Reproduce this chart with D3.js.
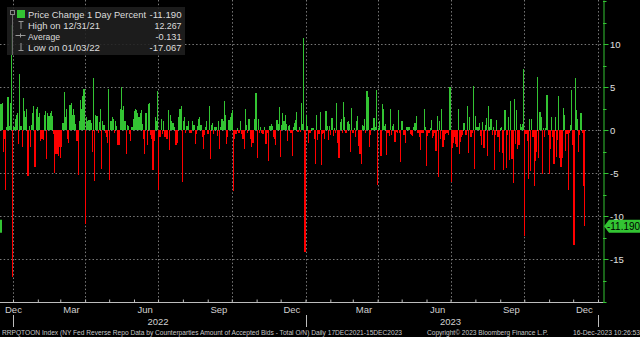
<!DOCTYPE html>
<html><head><meta charset="utf-8">
<script src="https://cdn.jsdelivr.net/npm/d3@7"></script>
<style>html,body{margin:0;padding:0;background:#000;overflow:hidden}svg{display:block}</style>
</head><body><svg id="c" width="640" height="337"></svg>
<script>
// ---------- DATA ----------
const seriesName = "Price Change 1 Day Percent";
const startDate = "2021-12-17", endDate = "2023-12-15";
const holidays = ["2021-12-24","2022-01-17","2022-02-21","2022-05-30","2022-06-20","2022-07-04","2022-09-05",
  "2022-10-10","2022-11-11","2022-11-24","2022-12-26","2023-01-02","2023-01-16","2023-02-20","2023-05-29",
  "2023-06-19","2023-07-04","2023-09-04","2023-10-09","2023-11-10","2023-11-23"];
// daily % changes, Dec 17 2021 - Apr 19 2022
const valsA = [3.0,3.2,-2.5,-1.0,-7.0,0.3,3.8,0.5,3.2,12.267,
 -17.067,0.3,1.3,1.8,2.0,-1.6,6.5,0.5,-2.0,3.7,
 2.2,1.5,2.4,-5.4,0.5,-2.0,0.6,2.0,2.8,-4.3,
 2.4,2.7,1.5,2.0,-1.3,-1.0,-1.2,1.8,2.2,-3.4,
 2.0,1.6,2.0,2.2,1.6,-0.5,-5.0,-2.8,-2.8,-3.0,
 -2.0,-3.2,-2.0,0.8,4.4,1.5,2.5,-1.0,-1.5,2.9,
 3.2,1.8,2.4,1.8,0.7,-1.3,-5.2,1.0,3.5,2.5,
 3.9,4.8,-10.9,1.5,1.0,1.2,1.2,0.8,-2.6,6.1,
 -5.9,1.8,1.6,-0.4,0.9];
// Apr 20 2022 - Aug 22 2022
const valsB = [2.5,-4.5,1.0,0.6,-0.4,-0.8,-1.5,4.8,-5.8,1.0,
 1.5,1.3,-0.3,1.0,0.5,-1.8,-1.7,2.5,5.0,2.3,
 2.8,1.0,-2.8,0.6,0.5,-0.5,-1.3,0.3,1.3,2.2,
 2.5,2.3,2.0,1.5,2.0,2.3,0.7,-1.0,-2.8,2.0,
 -1.8,3.0,3.2,-0.6,-1.0,-4.6,-1.3,1.5,1.0,4.5,
 -7.0,-0.8,1.3,-0.5,1.0,-0.8,-0.8,-1.0,2.3,-2.3,
 1.7,1.0,0.8,0.3,-1.8,-1.8,-1.5,1.5,2.5,2.8,
 -6.0,1.0,1.5,-0.4,0.5,1.0,-0.3,-0.4,-0.3,1.0,
 0.6,-1.6,-0.5,0.5,1.3,1.5];
// Aug 23 2022 - Dec 23 2022
const valsC = [0.6,-0.8,-2.2,-0.6,0.3,1.0,-0.5,2.8,-3.4,0.6,
 0.8,-0.5,0.4,0.4,-0.7,1.0,-2.2,0.4,1.3,1.0,
 3.4,1.8,-1.6,-0.8,1.2,1.5,2.0,2.3,-7.1,-1.0,
 -0.5,0.2,-0.4,-0.3,1.0,-0.5,-1.0,-2.2,2.5,0.6,
 -0.3,1.3,-1.0,-2.0,-1.5,-1.5,1.3,4.3,-3.2,1.3,
 -0.3,0.4,-0.3,-0.5,0.3,-1.6,-1.6,-0.4,-3.6,0.5,
 0.7,0.5,-0.8,-1.0,-1.8,1.2,0.7,2.7,-3.1,0.6,
 2.0,1.0,1.8,0.7,-1.3,0.5,0.6,-0.3,-3.0,0.3,
 0.8,1.2,2.1,-0.2,0.4];
// Dec 27 2022 - Apr 28 2023
const valsD = [-0.2,3.2,0.7,10.7,-14.2,1.8,0.5,-1.5,-0.4,-0.3,
 0.2,0.2,-1.0,-3.9,1.8,-1.2,-0.5,2.1,-4.1,-0.5,
 -0.3,-1.0,2.2,0.5,-1.2,0.5,-0.6,1.4,-0.7,0.2,
 -0.3,3.1,-1.5,-3.2,0.9,1.3,-0.4,3.3,1.5,-0.3,
 0.9,1.1,0.7,-2.5,2.6,-0.3,0.2,-0.8,1.0,1.6,
 -1.9,-2.8,-3.9,0.6,0.5,1.3,-0.3,4.5,3.8,-2.0,
 -0.6,0.2,0.2,1.4,0.4,4.6,-6.4,0.2,1.0,-3.0,
 3.0,2.5,0.5,0.7,-2.9,-0.3,-0.7,2.4,-0.6,0.5,
 0.7,-1.4,-0.2,-0.3,2.3,-0.4];
// May 1 2023 - Sep 1 2023
const valsE = [-3.7,1.1,-0.6,-0.6,-1.5,0.4,0.3,0.4,-0.5,-0.6,
 -0.7,0.3,0.8,1.6,-0.3,-0.4,-0.8,-2.3,-0.3,-0.3,
 2.4,0.3,-4.2,-0.7,-0.3,0.2,1.2,-0.9,-0.7,-0.3,
 -2.4,1.6,-5.5,1.0,-1.1,2.4,-2.0,-1.2,-0.5,-0.4,
 -0.3,-0.6,5.0,-6.1,-2.1,-1.5,-0.8,-1.6,-2.0,2.4,
 -2.8,-1.4,-0.8,-0.6,0.8,-0.6,-0.6,2.8,-2.7,1.5,
 -0.8,-0.4,5.1,-4.5,1.6,0.3,0.3,0.8,-0.7,-1.7,
 0.9,-2.1,0.6,1.4,-3.0,2.8,0.3,1.3,-0.6,0.3,
 -4.6,-0.6,1.2,-0.8,-2.6,0.2,0.3];
// Sep 5 2023 - Dec 15 2023
const valsF = [-2.7,-4.7,2.3,-4.4,-0.6,1.5,-3.5,3.4,-3.4,-6.2,
 3.6,-1.6,2.3,-2.2,-1.7,0.7,0.3,0.7,7.1,-12.3,
 -0.5,-1.3,-5.7,1.3,-4.8,1.3,-0.8,-6.5,-3.6,-2.5,
 6.2,-3.2,2.1,1.5,-5.1,0.2,-0.8,0.2,4.1,-0.6,
 -5.1,-2.2,1.5,-0.8,-4.0,1.5,-3.1,-1.2,4.0,-3.2,
 -4.3,-3.2,2.6,1.8,-2.4,-0.5,-7.0,-0.3,0.6,4.6,
 -1.8,-13.4,6.1,2.3,1.3,-2.5,-0.6,2.0,-0.3,-6.5,
 -11.19];
const legendLabels = ["Price Change 1 Day Percent","High on 12/31/21","Average","Low on 01/03/22"];
const legendValues = ["-11.190","12.267","-0.131","-17.067"];
const lastValueText = "-11.190";
const yTicks = [-15,-10,-5,0,5,10];
const monthLabels = [["2021-12","Dec"],["2022-03","Mar"],["2022-06","Jun"],["2022-09","Sep"],["2022-12","Dec"],
  ["2023-03","Mar"],["2023-06","Jun"],["2023-09","Sep"],["2023-12","Dec"]];
const yearLabels = ["2022","2023"];
const footerLeft = "RRPQTOON Index (NY Fed Reverse Repo Data by Counterparties Amount of Accepted Bids - Total O/N)  Daily 17DEC2021-15DEC2023";
const footerMid = "Copyright\u00A9 2023 Bloomberg Finance L.P.";
const footerRight = "16-Dec-2023 10:26:53";

// ---------- BUILD ----------
const values = [].concat(valsA, valsB, valsC, valsD, valsE, valsF);
const hol = new Set(holidays);
const days = d3.utcDay.range(new Date(startDate+"T00:00:00Z"), d3.utcDay.offset(new Date(endDate+"T00:00:00Z"),1))
  .filter(d => d.getUTCDay()!==0 && d.getUTCDay()!==6 && !hol.has(d.toISOString().slice(0,10)));
const n = Math.min(days.length, values.length);
const data = d3.range(n).map(i => ({i, date: days[i], v: values[i]}));

const FONT = "'Liberation Sans', Arial, sans-serif";
const GREEN = "#33c433", RED = "#ff0000";
const svg = d3.select("#c");
svg.append("rect").attr("width",640).attr("height",337).attr("fill","#000");

const plotL = 0, plotR = 603, plotT = 0, plotB = 302;
// calendar scale for the axis
const x = d3.scaleUtc().domain([new Date(Date.UTC(2022,0,1)), new Date(Date.UTC(2024,0,1))]).range([13, 598]);
// trading-day scale for the bars (evenly spaced sessions)
const xi = d3.scaleLinear().domain([0, n-1]).range([x(days[0]), x(days[n-1])]);
const y = d3.scaleLinear().domain([-20, 15.12]).range([plotB, plotT]);

// grid
const grid = svg.append("g").attr("stroke","#7a7a7a").attr("stroke-width",1).attr("stroke-dasharray","1.5,2.2");
grid.selectAll("line.h").data(yTicks).join("line")
  .attr("x1",plotL).attr("x2",plotR).attr("y1",d=>Math.round(y(d))+0.5).attr("y2",d=>Math.round(y(d))+0.5);
const qDates = d3.utcMonth.every(3).range(new Date(Date.UTC(2022,0,1)), new Date(Date.UTC(2024,0,2)));
grid.selectAll("line.v").data(qDates).join("line")
  .attr("x1",d=>Math.round(x(d))+0.5).attr("x2",d=>Math.round(x(d))+0.5).attr("y1",plotT).attr("y2",plotB);

// bars
const px0 = i => Math.round(xi(i) - 0.5);
svg.append("g").attr("shape-rendering","crispEdges").selectAll("rect").data(data).join("rect")
  .attr("x", d => px0(d.i))
  .attr("width", d => Math.max(1, px0(d.i+1) - px0(d.i)))
  .attr("y", d => y(Math.max(0,d.v)))
  .attr("height", d => Math.max(1, Math.abs(y(d.v) - y(0))))
  .attr("fill", d => d.v >= 0 ? GREEN : RED);

// x axis
svg.append("line").attr("x1",0).attr("x2",plotR).attr("y1",plotB+0.5).attr("y2",plotB+0.5).attr("stroke","#bdbdbd");
const xAxis = d3.axisBottom(x).ticks(d3.utcMonth.every(1)).tickSize(-3).tickFormat("").tickSizeOuter(0);
const xg = svg.append("g").attr("transform",`translate(0,${plotB+0.5})`).call(xAxis);
xg.select(".domain").remove();
xg.selectAll("line").attr("stroke","#bdbdbd");
xg.selectAll(".tick").filter(d => x(d) < 0 || x(d) > plotR).remove();

const lblG = svg.append("g").attr("font-family",FONT).attr("font-size",9.5).attr("fill","#d0d0d0").attr("text-anchor","middle");
monthLabels.forEach(([m,t]) => {
  const d = new Date(m+"-15T00:00:00Z");
  let cx = x(d);
  const t1 = lblG.append("text").attr("y",313).text(t);
  const w = t1.node().getComputedTextLength();
  cx = Math.max(cx, w/2 + 5);
  t1.attr("x", cx);
});
yearLabels.forEach(yr => {
  lblG.append("text").attr("x", x(new Date(yr+"-07-01T00:00:00Z"))).attr("y",325).text(yr);
});
const sepDates = [new Date(Date.UTC(2022,0,1)), new Date(Date.UTC(2023,0,1)), new Date(Date.UTC(2024,0,1))];
svg.append("g").selectAll("line").data(sepDates).join("line")
  .attr("x1",d=>Math.round(x(d))+0.5).attr("x2",d=>Math.round(x(d))+0.5).attr("y1",315).attr("y2",327)
  .attr("stroke","#bdbdbd");

// right y axis
const yAxis = d3.axisRight(y).tickValues(yTicks).tickSize(5).tickSizeOuter(0).tickFormat(d3.format("d"));
const yg = svg.append("g").attr("transform",`translate(${plotR+0.5},0)`).call(yAxis);
yg.select(".domain").attr("stroke",GREEN);
yg.selectAll(".tick line").attr("stroke",GREEN);
yg.selectAll(".tick text").attr("fill","#e0e0e0").attr("font-family",FONT).attr("font-size",9.5).attr("x",6.5)
  .text(d => d < 0 ? "-" + Math.abs(d) : d);
const minor = d3.range(-20, 15.01, 2.5).filter(v => v % 5 !== 0 || v === -20 || v === 15);
svg.append("g").selectAll("line").data(minor).join("line")
  .attr("x1",plotR).attr("x2",plotR+3.5).attr("y1",d=>Math.round(y(d))+0.5).attr("y2",d=>Math.round(y(d))+0.5)
  .attr("stroke",GREEN);

// last value tag
const yl = y(values[n-1]);
svg.append("path").attr("d",`M${plotR+1},${yl} L${plotR+6},${yl-6.5} L640,${yl-6.5} L640,${yl+6.5} L${plotR+6},${yl+6.5} Z`)
  .attr("fill",GREEN);
svg.append("text").attr("x",607).attr("y",yl+3.6).attr("font-family",FONT).attr("font-size",10).attr("fill","#000")
  .attr("textLength",33).attr("lengthAdjust","spacingAndGlyphs").text(lastValueText);
svg.append("rect").attr("x",0).attr("y",yl-6.5).attr("width",2).attr("height",13).attr("fill",GREEN);

// legend
const lg = svg.append("g");
lg.append("rect").attr("x",7).attr("y",7).attr("width",178).attr("height",48).attr("fill","#202020").attr("opacity",0.88);
lg.append("line").attr("x1",12.5).attr("x2",12.5).attr("y1",15).attr("y2",55).attr("stroke","#6a6a6a");
lg.append("rect").attr("x",10.5).attr("y",10.5).attr("width",4).attr("height",4).attr("fill","none").attr("stroke","#8a8a8a");
lg.append("rect").attr("x",17).attr("y",10).attr("width",8).attr("height",8).attr("fill",GREEN);
lg.append("path").attr("d","M18.5,21.5 H23.5 M21,21.5 V29").attr("stroke","#9a9a9a").attr("fill","none");
lg.append("path").attr("d","M15.5,35.5 H25.5 M20.5,33.5 V37.5").attr("stroke","#9a9a9a").attr("fill","none");
lg.append("path").attr("d","M21,43 V50.5 M18.5,50.5 H23.5").attr("stroke","#9a9a9a").attr("fill","none");
const rowsY = [17.5, 28.5, 39.5, 50.5];
const labelW = [118, 72, 32, 72];
const valueW = [32, 27, 26, 32];
legendLabels.forEach((t,i) => {
  lg.append("text").attr("x",28).attr("y",rowsY[i]).attr("font-family",FONT).attr("font-size",9.7).attr("fill","#dcdcdc")
    .attr("textLength",labelW[i]).attr("lengthAdjust","spacingAndGlyphs").text(t);
  lg.append("text").attr("x",181.5-valueW[i]).attr("y",rowsY[i]).attr("font-family",FONT).attr("font-size",9.7).attr("fill","#dcdcdc")
    .attr("textLength",valueW[i]).attr("lengthAdjust","spacingAndGlyphs").text(legendValues[i]);
});

// footer
const ft = svg.append("g").attr("font-family",FONT).attr("font-size",6.5).attr("fill","#c8c8c8");
ft.append("text").attr("x",2).attr("y",334.5).attr("textLength",400).attr("lengthAdjust","spacingAndGlyphs").text(footerLeft);
ft.append("text").attr("x",427).attr("y",334.5).attr("textLength",121).attr("lengthAdjust","spacingAndGlyphs").text(footerMid);
ft.append("text").attr("x",573).attr("y",334.5).attr("textLength",67).attr("lengthAdjust","spacingAndGlyphs").text(footerRight);
</script>
</body></html>
